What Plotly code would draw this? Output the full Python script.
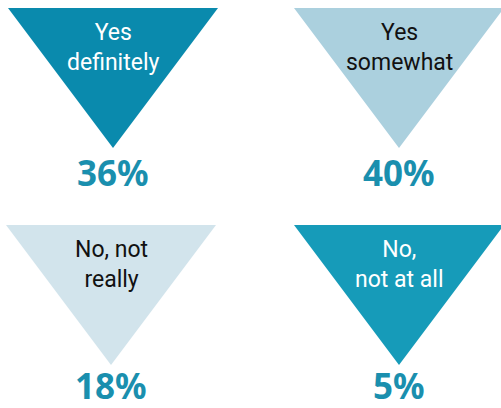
import plotly.graph_objects as go

categories = ["Yes<br>definitely", "Yes<br>somewhat", "No, not<br>really", "No,<br>not at all"]
values = [36, 40, 18, 5]
fill_colors = ["#0a8aad", "#abd0de", "#d2e4ec", "#169bb9"]
label_colors = ["white", "#111111", "#111111", "white"]
pct_color = "#1a8fae"

# layout (pixel grid)
centers_x = [113, 399, 111, 399]
tops_y = [8, 8, 225, 225]
pct_offset = [164, 164, 160, 160]
half_w = 105
tri_h = 140

fig = go.Figure()
for i, cat in enumerate(categories):
    cx, ty = centers_x[i], tops_y[i]
    fig.add_trace(go.Scatter(
        x=[cx - half_w, cx + half_w, cx, cx - half_w],
        y=[ty, ty, ty + tri_h, ty],
        fill="toself", fillcolor=fill_colors[i], mode="lines",
        line=dict(width=0), hoverinfo="skip", showlegend=False))
    fig.add_annotation(x=cx, y=ty + 39, text=cat, showarrow=False,
                       font=dict(family="Roboto, sans-serif",
                                 size=23, color=label_colors[i]),
                       xanchor="center", yanchor="middle")
    fig.add_annotation(x=cx, y=ty + pct_offset[i], text=f"<b>{values[i]}%</b>", showarrow=False,
                       font=dict(family="Noto Sans, sans-serif", size=35, color=pct_color),
                       xanchor="center", yanchor="middle", borderpad=0)

fig.update_layout(width=501, height=408, margin=dict(l=0, r=0, t=0, b=0),
                  paper_bgcolor="white", plot_bgcolor="white",
                  xaxis=dict(range=[0, 501], visible=False, fixedrange=True),
                  yaxis=dict(range=[408, 0], visible=False, fixedrange=True))
fig.write_html("out.html")
